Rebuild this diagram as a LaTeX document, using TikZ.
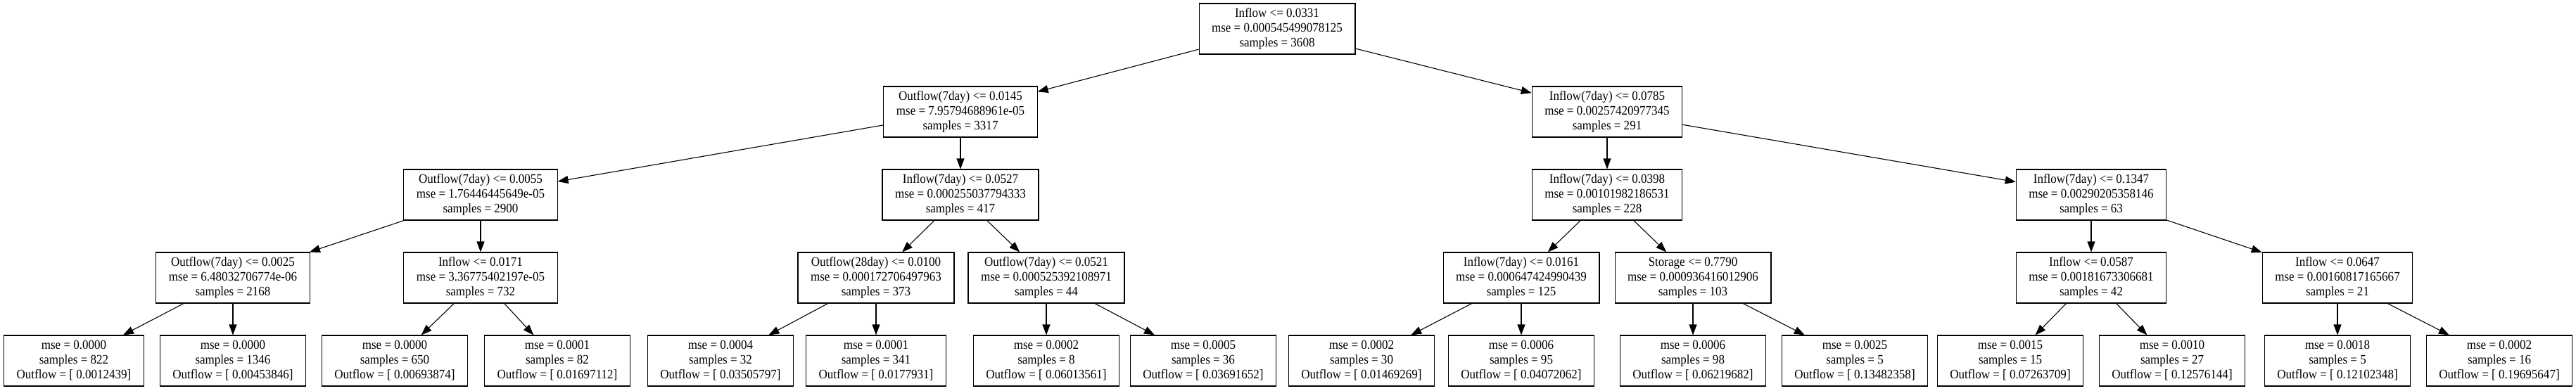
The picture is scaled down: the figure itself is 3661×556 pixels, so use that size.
\documentclass[tikz,border=0pt]{standalone}
\usepackage{fontspec}
\setmainfont[FakeStretch=0.92]{Liberation Serif}
\usetikzlibrary{arrows.meta}
\begin{document}
\begin{tikzpicture}[x=1pt,y=-1pt,
  tnode/.style={draw, line width=1.1pt, rectangle, align=center,
    font=\fontsize{18.5}{21}\selectfont, inner xsep=18pt, inner ysep=4pt,
    minimum height=72pt},
  edge/.style={line width=1.1pt, -{Triangle[length=15pt,width=11pt]}}]
\useasboundingbox (0,0) rectangle (3661,556);
% level 0
\node[tnode] (root) at (1815,41) {Inflow <= 0.0331\\mse = 0.000545499078125\\samples = 3608};
% level 1
\node[tnode] (a) at (1365,159) {Outflow(7day) <= 0.0145\\mse = 7.95794688961e-05\\samples = 3317};
\node[tnode] (b) at (2284,159) {Inflow(7day) <= 0.0785\\mse = 0.00257420977345\\samples = 291};
% level 2
\node[tnode] (aa) at (683,277) {Outflow(7day) <= 0.0055\\mse = 1.76446445649e-05\\samples = 2900};
\node[tnode] (ab) at (1365,277) {Inflow(7day) <= 0.0527\\mse = 0.000255037794333\\samples = 417};
\node[tnode] (ba) at (2284,277) {Inflow(7day) <= 0.0398\\mse = 0.00101982186531\\samples = 228};
\node[tnode] (bb) at (2972,277) {Inflow(7day) <= 0.1347\\mse = 0.00290205358146\\samples = 63};
% level 3
\node[tnode] (aaa) at (331,395) {Outflow(7day) <= 0.0025\\mse = 6.48032706774e-06\\samples = 2168};
\node[tnode] (aab) at (683,395) {Inflow <= 0.0171\\mse = 3.36775402197e-05\\samples = 732};
\node[tnode] (aba) at (1245,395) {Outflow(28day) <= 0.0100\\mse = 0.000172706497963\\samples = 373};
\node[tnode] (abb) at (1487,395) {Outflow(7day) <= 0.0521\\mse = 0.000525392108971\\samples = 44};
\node[tnode] (baa) at (2162,395) {Inflow(7day) <= 0.0161\\mse = 0.000647424990439\\samples = 125};
\node[tnode] (bab) at (2406,395) {Storage <= 0.7790\\mse = 0.000936416012906\\samples = 103};
\node[tnode] (bba) at (2972,395) {Inflow <= 0.0587\\mse = 0.00181673306681\\samples = 42};
\node[tnode] (bbb) at (3322,395) {Inflow <= 0.0647\\mse = 0.00160817165667\\samples = 21};
% leaves
\node[tnode] (l1) at (105,513) {mse = 0.0000\\samples = 822\\Outflow = [ 0.0012439]};
\node[tnode] (l2) at (331,513) {mse = 0.0000\\samples = 1346\\Outflow = [ 0.00453846]};
\node[tnode] (l3) at (561,513) {mse = 0.0000\\samples = 650\\Outflow = [ 0.00693874]};
\node[tnode] (l4) at (792,513) {mse = 0.0001\\samples = 82\\Outflow = [ 0.01697112]};
\node[tnode] (l5) at (1024,513) {mse = 0.0004\\samples = 32\\Outflow = [ 0.03505797]};
\node[tnode] (l6) at (1245,513) {mse = 0.0001\\samples = 341\\Outflow = [ 0.0177931]};
\node[tnode] (l7) at (1487,513) {mse = 0.0002\\samples = 8\\Outflow = [ 0.06013561]};
\node[tnode] (l8) at (1710,513) {mse = 0.0005\\samples = 36\\Outflow = [ 0.03691652]};
\node[tnode] (l9) at (1935,513) {mse = 0.0002\\samples = 30\\Outflow = [ 0.01469269]};
\node[tnode] (l10) at (2162,513) {mse = 0.0006\\samples = 95\\Outflow = [ 0.04072062]};
\node[tnode] (l11) at (2406,513) {mse = 0.0006\\samples = 98\\Outflow = [ 0.06219682]};
\node[tnode] (l12) at (2636,513) {mse = 0.0025\\samples = 5\\Outflow = [ 0.13482358]};
\node[tnode] (l13) at (2857,513) {mse = 0.0015\\samples = 15\\Outflow = [ 0.07263709]};
\node[tnode] (l14) at (3087,513) {mse = 0.0010\\samples = 27\\Outflow = [ 0.12576144]};
\node[tnode] (l15) at (3322,513) {mse = 0.0018\\samples = 5\\Outflow = [ 0.12102348]};
\node[tnode] (l16) at (3552,513) {mse = 0.0002\\samples = 16\\Outflow = [ 0.19695647]};
% edges
\draw[edge] (root) -- (a);
\draw[edge] (root) -- (b);
\draw[edge] (a) -- (aa);
\draw[edge] (a) -- (ab);
\draw[edge] (b) -- (ba);
\draw[edge] (b) -- (bb);
\draw[edge] (aa) -- (aaa);
\draw[edge] (aa) -- (aab);
\draw[edge] (ab) -- (aba);
\draw[edge] (ab) -- (abb);
\draw[edge] (ba) -- (baa);
\draw[edge] (ba) -- (bab);
\draw[edge] (bb) -- (bba);
\draw[edge] (bb) -- (bbb);
\draw[edge] (aaa) -- (l1);
\draw[edge] (aaa) -- (l2);
\draw[edge] (aab) -- (l3);
\draw[edge] (aab) -- (l4);
\draw[edge] (aba) -- (l5);
\draw[edge] (aba) -- (l6);
\draw[edge] (abb) -- (l7);
\draw[edge] (abb) -- (l8);
\draw[edge] (baa) -- (l9);
\draw[edge] (baa) -- (l10);
\draw[edge] (bab) -- (l11);
\draw[edge] (bab) -- (l12);
\draw[edge] (bba) -- (l13);
\draw[edge] (bba) -- (l14);
\draw[edge] (bbb) -- (l15);
\draw[edge] (bbb) -- (l16);
\end{tikzpicture}
\end{document}
